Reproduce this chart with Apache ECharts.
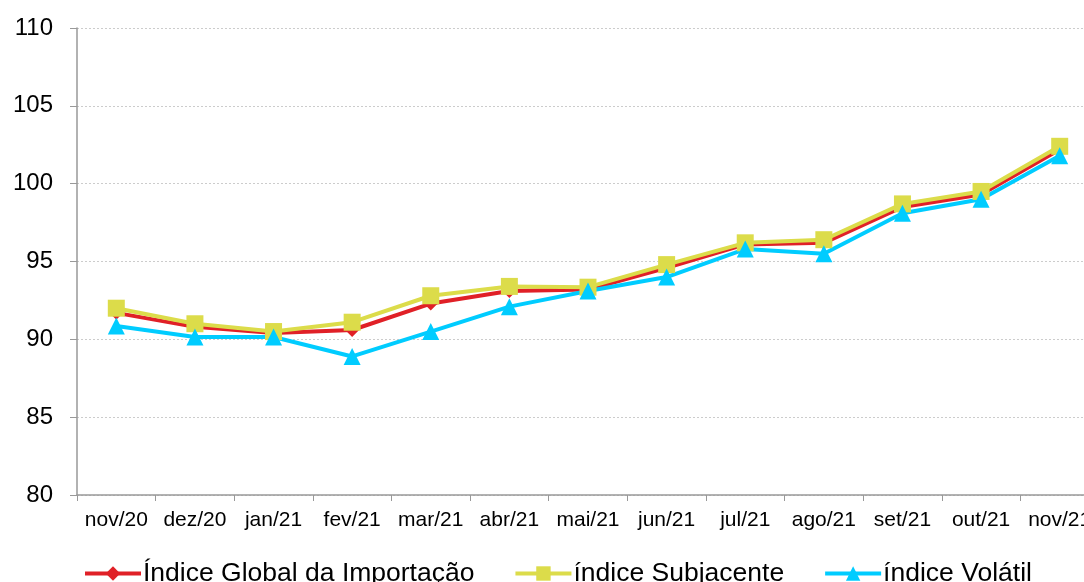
<!DOCTYPE html>
<html>
<head>
<meta charset="utf-8">
<script src="https://cdn.jsdelivr.net/npm/echarts@6/dist/echarts.min.js"></script>
<style>
  html, body { margin: 0; padding: 0; background: #fff; }
  #chart { width: 1084px; height: 582px; }
</style>
</head>
<body>
<div id="chart"></div>
<script>
const months = ['nov/20', 'dez/20', 'jan/21', 'fev/21', 'mar/21', 'abr/21', 'mai/21',
  'jun/21', 'jul/21', 'ago/21', 'set/21', 'out/21', 'nov/21'];
const globalIdx = [91.7, 90.8, 90.4, 90.6, 92.3, 93.1, 93.2, 94.6, 96.1, 96.2, 98.5, 99.3, 102.2];
const subjacente = [92.0, 91.0, 90.5, 91.1, 92.8, 93.4, 93.35, 94.8, 96.2, 96.4, 98.7, 99.5, 102.4];
const volatil = [90.85, 90.15, 90.15, 88.9, 90.5, 92.1, 93.1, 94.0, 95.8, 95.5, 98.1, 99.0, 101.8];

const chart = echarts.init(document.getElementById('chart'));
const font = 'Liberation Sans, Arial, sans-serif';

const mkSeries = (name, data, color, symbol, size) => ({
  name: name,
  type: 'line',
  data: data,
  symbol: symbol,
  symbolSize: size,
  lineStyle: { color: color, width: 4 },
  itemStyle: { color: color },
  z: 2
});

chart.setOption({
  animation: false,
  textStyle: { fontFamily: font },
  // plot runs a bit past the right edge, like the source image
  grid: { left: 77, width: 1022, top: 28, bottom: 87, outerBoundsMode: 'none' },
  legend: {
    top: 555,
    left: 78,
    itemGap: 39,
    itemWidth: 56,
    itemHeight: 18,
    lineStyle: { width: 4 },
    textStyle: { fontSize: 26.5, color: '#000', fontFamily: font, padding: [0, 0, 0, -3] },
    data: ['Índice Global da Importação', 'índice Subjacente', 'índice Volátil']
  },
  xAxis: {
    type: 'category',
    data: months,
    boundaryGap: true,
    axisLine: { lineStyle: { color: '#999', width: 1.5 } },
    axisTick: { show: true, length: 6, lineStyle: { color: '#999' } },
    axisLabel: { interval: 0, fontSize: 21, color: '#000', margin: 15, fontFamily: font }
  },
  yAxis: {
    type: 'value',
    min: 80,
    max: 110,
    interval: 5,
    axisLine: { show: true, lineStyle: { color: '#999', width: 1.5 } },
    axisTick: { show: true, length: 7, lineStyle: { color: '#999' } },
    axisLabel: { fontSize: 24, color: '#000', margin: 24, fontFamily: font },
    splitLine: { lineStyle: { color: '#ccc', type: [2, 2], width: 1 } }
  },
  series: [
    mkSeries('Índice Global da Importação', globalIdx, '#e02027', 'diamond', 14),
    mkSeries('índice Subjacente', subjacente, '#dcdc4a', 'rect', 17),
    mkSeries('índice Volátil', volatil, '#00ccff', 'triangle', 17)
  ]
});
</script>
</body>
</html>
